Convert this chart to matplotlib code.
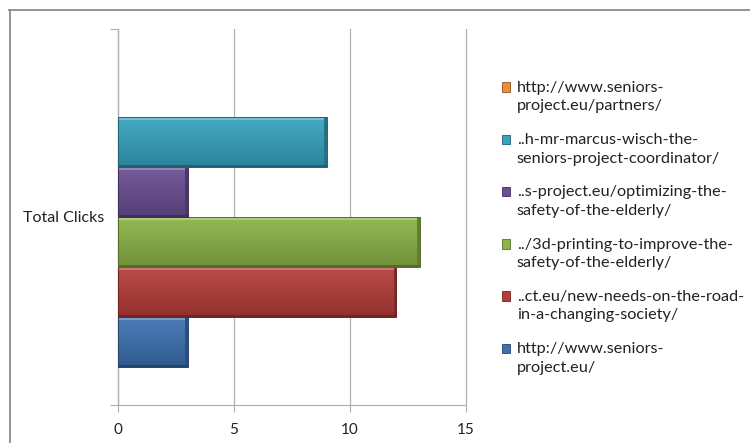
import numpy as np
import matplotlib
matplotlib.use("Agg")
import matplotlib.pyplot as plt
from matplotlib.colors import to_rgb
from matplotlib.lines import Line2D
from matplotlib.patches import Rectangle
from matplotlib.legend_handler import HandlerPatch

plt.rcParams['font.family'] = ['Lato', 'DejaVu Sans']

category = "Total Clicks"
pages = [
    "http://www.seniors-\nproject.eu/",
    "..ct.eu/new-needs-on-the-road-\nin-a-changing-society/",
    "../3d-printing-to-improve-the-\nsafety-of-the-elderly/",
    "..s-project.eu/optimizing-the-\nsafety-of-the-elderly/",
    "..h-mr-marcus-wisch-the-\nseniors-project-coordinator/",
    "http://www.seniors-\nproject.eu/partners/",
]
clicks = [3, 12, 13, 3, 9, 0]
colors = ["#3d72b3", "#b73c39", "#8db446", "#6b4e94", "#36a4c0", "#ef8a35"]
x_ticks = [0, 5, 10, 15]

W, H = 750, 443
fig = plt.figure(figsize=(W / 100, H / 100), dpi=100)
fig.patch.set_facecolor("white")

# chart-area frame (top and left edges)
fig.add_artist(Line2D([9 / W, 1], [1 - 9.5 / H, 1 - 9.5 / H], color="#8a8a8a", lw=1.3))
fig.add_artist(Line2D([9.5 / W, 9.5 / W], [0, 1 - 9.5 / H], color="#8a8a8a", lw=1.3))

ax = fig.add_axes([118 / W, 38 / H, 348 / W, 376 / H])
ax.set_xlim(0, 15)
ax.set_ylim(-0.5, 0.5)

n = len(clicks)
group = 0.8
h = group / n
offsets = -group / 2 + h / 2 + np.arange(n) * h

bars = ax.barh(offsets, clicks, height=h, color=colors, edgecolor="none", zorder=3)


def shade(c, f):
    r = np.array(to_rgb(c))
    if f >= 0:
        return r + (1 - r) * f
    return r * (1 + f)


# bevelled gradient fill for each bar
for b, c in zip(bars, colors):
    x0, y0 = b.get_x(), b.get_y()
    w, hh = b.get_width(), b.get_height()
    if w <= 0:
        continue
    t = np.linspace(0, 1, 64)[:, None]
    top = shade(c, 0.08)
    bot = shade(c, -0.2)
    grad = (top[None, None, :] * (1 - t[..., None]) + bot[None, None, :] * t[..., None])
    grad = np.repeat(grad, 2, axis=1)
    im = ax.imshow(grad, extent=[x0, x0 + w, y0, y0 + hh], origin="upper",
                   aspect="auto", zorder=4, interpolation="bilinear")
    im.set_clip_path(b)
    # light highlight along the top edge
    ax.add_patch(Rectangle((x0, y0 + hh * 0.94), w, hh * 0.06,
                           color=shade(c, 0.3), zorder=5, lw=0))
    # darker right and bottom bevel
    ax.add_patch(Rectangle((x0 + w - 0.1, y0), 0.1, hh,
                           color=shade(c, -0.3), zorder=5, lw=0))
    ax.add_patch(Rectangle((x0, y0), w, hh * 0.04,
                           color=shade(c, -0.4), zorder=5, lw=0))
    ax.add_patch(Rectangle((x0, y0), w, hh, fill=False,
                           edgecolor=shade(c, -0.4), lw=0.7, zorder=6))

ax.set_xticks(x_ticks)
ax.set_xticklabels([str(v) for v in x_ticks], fontsize=11, color="#222222")
ax.xaxis.grid(True, color="#b0b0b0", lw=0.9, zorder=0)
for gl in ax.get_xgridlines():
    gl.set_clip_on(False)
ax.set_axisbelow(True)

ax.set_yticks([-0.5, 0.5])
ax.set_yticklabels(["", ""])
ax.set_yticks([0], minor=True)
ax.set_yticklabels([category], minor=True, fontsize=11.5, color="#222222")
ax.tick_params(axis="y", which="major", length=6, color="#b0b0b0", direction="out")
ax.tick_params(axis="y", which="minor", length=0, pad=10)
ax.tick_params(axis="x", length=5, color="#b0b0b0", direction="out", pad=8)

for s in ["top", "right"]:
    ax.spines[s].set_visible(False)
for s in ["left", "bottom"]:
    ax.spines[s].set_color("#b0b0b0")
    ax.spines[s].set_linewidth(0.9)


# legend swatches sit beside the first line of each two-line label
def top_square(legend, orig_handle, xdescent, ydescent, width, height, fontsize):
    return Rectangle((-xdescent, -ydescent + 0.6 * fontsize), width, height)


handles = [Rectangle((0, 0), 1, 1, facecolor=c, edgecolor=shade(c, -0.4), lw=0.6)
           for c in colors][::-1]
leg = fig.legend(handles, pages[::-1], loc="upper left",
                 bbox_to_anchor=(502 / W, 1 - 81 / H), frameon=False,
                 fontsize=11.7, handlelength=0.52, handleheight=0.52,
                 handletextpad=0.4, labelspacing=1.22, borderaxespad=0,
                 borderpad=0,
                 handler_map={Rectangle: HandlerPatch(patch_func=top_square)})
for t in leg.get_texts():
    t.set_color("#222222")
    t.set_linespacing(1.4)

fig.savefig("out.png", dpi=100, facecolor="white")
